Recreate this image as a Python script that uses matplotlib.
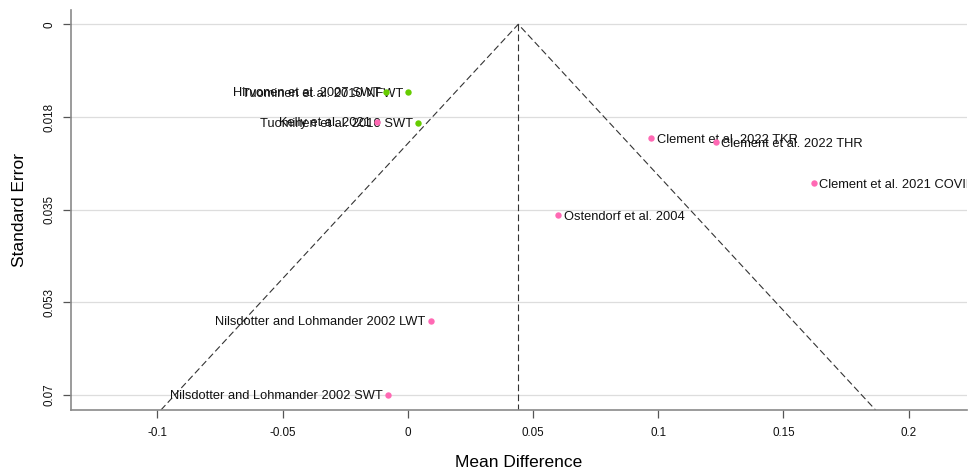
import matplotlib
matplotlib.use("Agg")
import matplotlib.pyplot as plt

plt.rcParams['font.family'] = ['Liberation Sans', 'DejaVu Sans']

# Data
studies = ["Hirvonen et al. 2007 SWT", "Tuominen et al. 2010 NFWT", "Tuominen et al. 2010 SWT",
           "Kelly et al. 2021", "Clement et al. 2022 TKR", "Clement et al. 2022 THR",
           "Clement et al. 2021 COVID", "Ostendorf et al. 2004",
           "Nilsdotter and Lohmander 2002 LWT", "Nilsdotter and Lohmander 2002 SWT"]
mean_diff = [-0.0088, 0.0002, 0.0041, -0.0124, 0.0972, 0.1231, 0.1621, 0.0601, 0.0092, -0.0080]
std_err = [0.0127, 0.0128, 0.0186, 0.0184, 0.0215, 0.0223, 0.0300, 0.0360, 0.0560, 0.0699]
groups = ["green", "green", "green", "pink", "pink", "pink", "pink", "pink", "pink", "pink"]
pooled = 0.0441

x_ticks = [-0.1, -0.05, 0, 0.05, 0.1, 0.15, 0.2]
x_tick_labels = ["-0.1", "-0.05", "0", "0.05", "0.1", "0.15", "0.2"]
y_ticks = [0, 0.0175, 0.035, 0.0525, 0.07]
y_tick_labels = ["0", "0.018", "0.035", "0.053", "0.07"]

colors = {"green": "#66CC00", "pink": "#FF69B4"}

fig = plt.figure(figsize=(9.71, 4.69), dpi=100)
ax = fig.add_axes([0.0731, 0.1258, 0.9228, 0.8529])

xlim = (-0.1345, 0.2233)
ylim = (0.0728, -0.0027)
ax.set_xlim(*xlim)
ax.set_ylim(*ylim)

for t in y_ticks:
    ax.axhline(t, color="#DDDDDD", lw=0.9, zorder=0)

se_max = ylim[0]
ax.plot([pooled - 1.96 * se_max, pooled, pooled + 1.96 * se_max], [se_max, 0, se_max],
        ls=(0, (6, 3)), color="#333333", lw=0.8, zorder=1)
ax.plot([pooled, pooled], [0, se_max], ls=(0, (6, 3)), color="#333333", lw=0.8, zorder=1)

for name, x, y, g in zip(studies, mean_diff, std_err, groups):
    ax.plot(x, y, "o", color=colors[g], ms=4.6, mec="none", zorder=3)
    if x < pooled:
        ax.annotate(name, (x, y), xytext=(-3.8, 0), textcoords="offset points",
                    ha="right", va="center_baseline", fontsize=9.3, color="#111111", zorder=2,
                    annotation_clip=False, clip_on=True)
    else:
        ax.annotate(name, (x, y), xytext=(3.8, 0), textcoords="offset points",
                    ha="left", va="center_baseline", fontsize=9.3, color="#111111", zorder=2,
                    annotation_clip=False, clip_on=True)

ax.set_xticks(x_ticks)
ax.set_xticklabels(x_tick_labels, fontsize=8.4)
ax.set_yticks(y_ticks)
ax.set_yticklabels(y_tick_labels, fontsize=8.4, rotation=90, va="center")

for s in ["top", "right"]:
    ax.spines[s].set_visible(False)
for s in ["left", "bottom"]:
    ax.spines[s].set_color("#8A8A8A")
    ax.spines[s].set_linewidth(1.2)
ax.tick_params(axis="both", colors="#555555", length=6, width=0.9, labelcolor="#111111")
ax.tick_params(axis="x", pad=6)
ax.tick_params(axis="y", pad=5)

ax.set_xlabel("Mean Difference", fontsize=12.5, labelpad=12)
ax.set_ylabel("Standard Error", fontsize=12.5, labelpad=12)

fig.savefig("out.png", dpi=100)
